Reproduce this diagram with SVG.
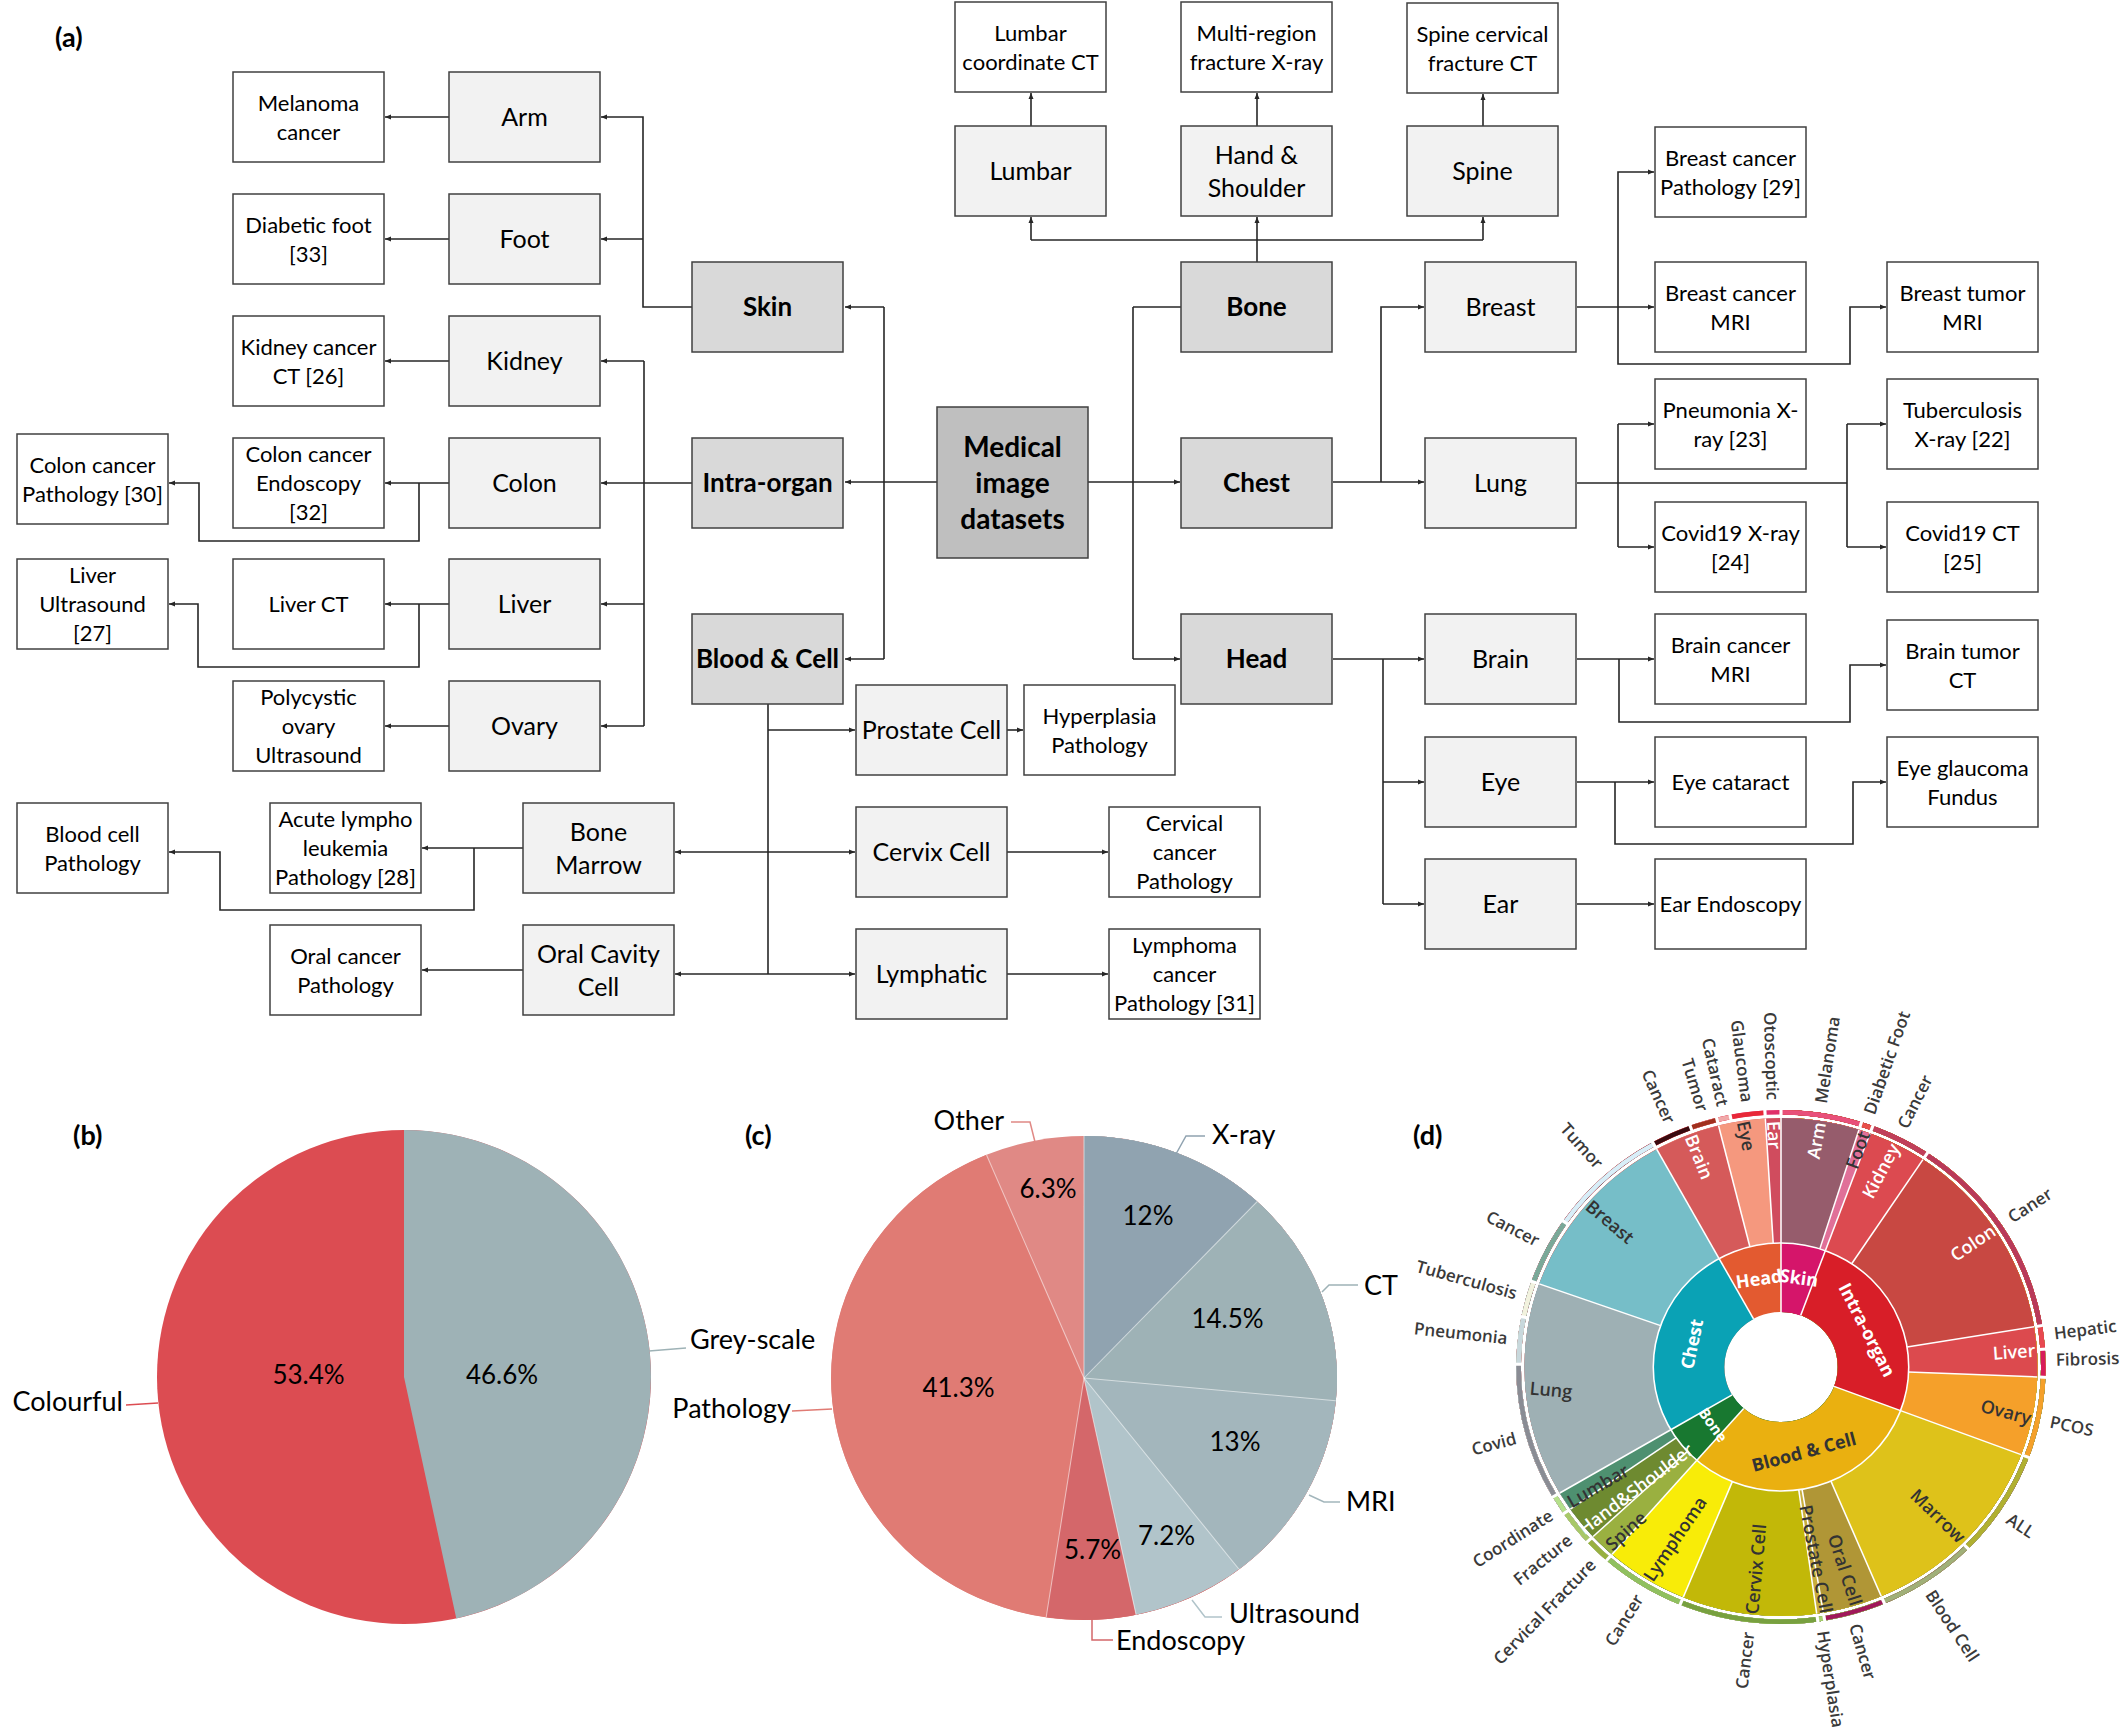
<svg xmlns="http://www.w3.org/2000/svg" width="2124" height="1728" viewBox="0 0 2124 1728">
<style>
.bx{stroke:#404040;stroke-width:1.5}
.leaf{fill:#fff}
.mid{fill:#f2f2f2}
.cat{fill:#d9d9d9}
.root{fill:#bfbfbf}
text{font-family:Lato,'Liberation Sans',sans-serif}
.t{font-size:22px;text-anchor:middle;fill:#000}
.tm{font-size:25px;text-anchor:middle;fill:#000}
.tb{font-size:26px;font-weight:700;text-anchor:middle;fill:#000}
.tr{font-size:28px;font-weight:700;text-anchor:middle;fill:#000}
.ln{fill:none;stroke:#262626;stroke-width:1.6}
.ar{marker-end:url(#ah)}
.pl{font-size:27px;font-weight:700;fill:#000}
.pt{font-size:27px;fill:#000}
.pp{font-size:26px;fill:#000;text-anchor:middle}
.sb text{font-family:'Open Sans','Liberation Sans',sans-serif}
.ol{font-size:17px;font-weight:600;fill:#3a3a3a}
.il{font-size:18px;font-weight:700;text-anchor:middle}
.sl{font-size:18px;font-weight:600;text-anchor:middle}
.w{fill:#fff}
.d{fill:#333}
.lead{fill:none;stroke-width:1.5}
</style>
<defs>
<marker id="ah" viewBox="0 0 6 6" refX="6" refY="3" markerWidth="6" markerHeight="6" markerUnits="userSpaceOnUse" orient="auto"><path d="M0,0.5L6,3L0,5.5z" fill="#262626"/></marker>
<path id="c1" fill="none" d="M0,-89.5A89.5,89.5 0 1 1 0,89.5A89.5,89.5 0 1 1 0,-89.5" pathLength="360"/>
<path id="c2" fill="none" d="M0,-186.5A186.5,186.5 0 1 1 0,186.5A186.5,186.5 0 1 1 0,-186.5" pathLength="360"/>
<path id="c3" fill="none" d="M0,-254.75A254.75,254.75 0 1 1 0,254.75A254.75,254.75 0 1 1 0,-254.75" pathLength="360"/>
<path id="pc" fill="none" d="M0,-121A121,121 0 1 1 0,121A121,121 0 1 1 0,-121" pathLength="100"/>
<path id="pb" fill="none" d="M0,-123.5A123.5,123.5 0 1 1 0,123.5A123.5,123.5 0 1 1 0,-123.5" pathLength="100"/>
</defs>
<rect width="2124" height="1728" fill="#fff"/>

<!-- panel labels -->
<g id="panel-labels">
<text class="pl" x="55" y="47">(a)</text>
<text class="pl" x="73" y="1145">(b)</text>
<text class="pl" x="745" y="1145">(c)</text>
<text class="pl" x="1413" y="1145">(d)</text>
</g>

<!-- connectors -->
<g id="connectors" class="ln">
<path class="ar" d="M692,307H643V117H601"/>
<path class="ar" d="M643,239H601"/>
<path class="ar" d="M449,117H385"/>
<path class="ar" d="M449,239H385"/>
<path class="ar" d="M692,483H601"/>
<path d="M644,361V726"/>
<path class="ar" d="M644,361H601"/>
<path class="ar" d="M644,604H601"/>
<path class="ar" d="M644,726H601"/>
<path class="ar" d="M449,361H385"/>
<path class="ar" d="M449,483H385"/>
<path class="ar" d="M419,483V541H199V483H169"/>
<path class="ar" d="M449,604H385"/>
<path class="ar" d="M419,604V667H198V604H169"/>
<path class="ar" d="M449,726H385"/>
<path d="M768,704V974"/>
<path class="ar" d="M768,730H855"/>
<path class="ar" d="M768,852H855"/>
<path class="ar" d="M768,852H675"/>
<path class="ar" d="M768,974H855"/>
<path class="ar" d="M768,974H675"/>
<path class="ar" d="M523,848H422"/>
<path class="ar" d="M474,848V910H220V852H169"/>
<path class="ar" d="M523,970H422"/>
<path class="ar" d="M1007,730H1023"/>
<path class="ar" d="M1007,852H1108"/>
<path class="ar" d="M1007,974H1108"/>
<path class="ar" d="M937,482H845"/>
<path d="M884,307V659"/>
<path class="ar" d="M884,307H845"/>
<path class="ar" d="M884,659H845"/>
<path class="ar" d="M1088,482H1180"/>
<path d="M1133,307V659"/>
<path d="M1133,307H1181"/>
<path class="ar" d="M1133,659H1180"/>
<path class="ar" d="M1257,262V217"/>
<path d="M1031,240H1483"/>
<path class="ar" d="M1031,240V217"/>
<path class="ar" d="M1483,240V217"/>
<path class="ar" d="M1031,126V93"/>
<path class="ar" d="M1257,126V93"/>
<path class="ar" d="M1483,126V94"/>
<path class="ar" d="M1333,482H1424"/>
<path class="ar" d="M1381,482V307H1424"/>
<path class="ar" d="M1577,307H1654"/>
<path class="ar" d="M1618,307V172H1654"/>
<path class="ar" d="M1618,307V364H1850V307H1886"/>
<path d="M1577,483H1847"/>
<path d="M1618,424V547"/>
<path class="ar" d="M1618,424H1654"/>
<path class="ar" d="M1618,547H1654"/>
<path d="M1847,424V547"/>
<path class="ar" d="M1847,424H1886"/>
<path class="ar" d="M1847,547H1886"/>
<path class="ar" d="M1333,659H1424"/>
<path d="M1383,659V904"/>
<path class="ar" d="M1383,782H1424"/>
<path class="ar" d="M1383,904H1424"/>
<path class="ar" d="M1577,659H1654"/>
<path class="ar" d="M1619,659V722H1850V665H1886"/>
<path class="ar" d="M1577,782H1654"/>
<path class="ar" d="M1615,782V844H1853V782H1886"/>
<path class="ar" d="M1577,904H1654"/>
</g>

<!-- left leaf nodes -->
<g id="n-melanoma"><rect class="bx leaf" x="233" y="72" width="151" height="90"/><text class="t"><tspan x="308.5" y="111">Melanoma</tspan><tspan x="308.5" y="139.5">cancer</tspan></text></g>
<g id="n-diabetic"><rect class="bx leaf" x="233" y="194" width="151" height="90"/><text class="t"><tspan x="308.5" y="233">Diabetic foot</tspan><tspan x="308.5" y="261.5">[33]</tspan></text></g>
<g id="n-kidneyct"><rect class="bx leaf" x="233" y="316" width="151" height="90"/><text class="t"><tspan x="308.5" y="355">Kidney cancer</tspan><tspan x="308.5" y="383.5">CT [26]</tspan></text></g>
<g id="n-colonpath"><rect class="bx leaf" x="17" y="434" width="151" height="90"/><text class="t"><tspan x="92.5" y="473">Colon cancer</tspan><tspan x="92.5" y="501.5">Pathology [30]</tspan></text></g>
<g id="n-colonendo"><rect class="bx leaf" x="233" y="438" width="151" height="90"/><text class="t"><tspan x="308.5" y="462">Colon cancer</tspan><tspan x="308.5" y="491">Endoscopy</tspan><tspan x="308.5" y="520">[32]</tspan></text></g>
<g id="n-liverus"><rect class="bx leaf" x="17" y="559" width="151" height="90"/><text class="t"><tspan x="92.5" y="583">Liver</tspan><tspan x="92.5" y="612">Ultrasound</tspan><tspan x="92.5" y="641">[27]</tspan></text></g>
<g id="n-liverct"><rect class="bx leaf" x="233" y="559" width="151" height="90"/><text class="t" x="308.5" y="612">Liver CT</text></g>
<g id="n-pco"><rect class="bx leaf" x="233" y="681" width="151" height="90"/><text class="t"><tspan x="308.5" y="705">Polycystic</tspan><tspan x="308.5" y="734">ovary</tspan><tspan x="308.5" y="763">Ultrasound</tspan></text></g>
<g id="n-bloodpath"><rect class="bx leaf" x="17" y="803" width="151" height="90"/><text class="t"><tspan x="92.5" y="842">Blood cell</tspan><tspan x="92.5" y="870.5">Pathology</tspan></text></g>
<g id="n-acute"><rect class="bx leaf" x="270" y="803" width="151" height="90"/><text class="t"><tspan x="345.5" y="827">Acute lympho</tspan><tspan x="345.5" y="856">leukemia</tspan><tspan x="345.5" y="885">Pathology [28]</tspan></text></g>
<g id="n-oralpath"><rect class="bx leaf" x="270" y="925" width="151" height="90"/><text class="t"><tspan x="345.5" y="964">Oral cancer</tspan><tspan x="345.5" y="992.5">Pathology</tspan></text></g>

<!-- left mid nodes -->
<g id="n-arm"><rect class="bx mid" x="449" y="72" width="151" height="90"/><text class="tm" x="524.5" y="126">Arm</text></g>
<g id="n-foot"><rect class="bx mid" x="449" y="194" width="151" height="90"/><text class="tm" x="524.5" y="248">Foot</text></g>
<g id="n-kidney"><rect class="bx mid" x="449" y="316" width="151" height="90"/><text class="tm" x="524.5" y="370">Kidney</text></g>
<g id="n-colon"><rect class="bx mid" x="449" y="438" width="151" height="90"/><text class="tm" x="524.5" y="492">Colon</text></g>
<g id="n-liver"><rect class="bx mid" x="449" y="559" width="151" height="90"/><text class="tm" x="524.5" y="613">Liver</text></g>
<g id="n-ovary"><rect class="bx mid" x="449" y="681" width="151" height="90"/><text class="tm" x="524.5" y="735">Ovary</text></g>
<g id="n-marrow"><rect class="bx mid" x="523" y="803" width="151" height="90"/><text class="tm"><tspan x="598.5" y="840.5">Bone</tspan><tspan x="598.5" y="873.5">Marrow</tspan></text></g>
<g id="n-oralcavity"><rect class="bx mid" x="523" y="925" width="151" height="90"/><text class="tm"><tspan x="598.5" y="962.5">Oral Cavity</tspan><tspan x="598.5" y="995.5">Cell</tspan></text></g>

<!-- center -->
<g id="n-skin"><rect class="bx cat" x="692" y="262" width="151" height="90"/><text class="tb" x="767.5" y="316">Skin</text></g>
<g id="n-intra"><rect class="bx cat" x="692" y="438" width="151" height="90"/><text class="tb" x="767.5" y="492">Intra-organ</text></g>
<g id="n-blood"><rect class="bx cat" x="692" y="614" width="151" height="90"/><text class="tb" x="767.5" y="668">Blood &amp; Cell</text></g>
<g id="n-root"><rect class="bx root" x="937" y="407" width="151" height="151"/><text class="tr"><tspan x="1012.5" y="456.5">Medical</tspan><tspan x="1012.5" y="492.5">image</tspan><tspan x="1012.5" y="528.5">datasets</tspan></text></g>
<g id="n-prostate"><rect class="bx mid" x="856" y="685" width="151" height="90"/><text class="tm" x="931.5" y="739">Prostate Cell</text></g>
<g id="n-hyper"><rect class="bx leaf" x="1024" y="685" width="151" height="90"/><text class="t"><tspan x="1099.5" y="724">Hyperplasia</tspan><tspan x="1099.5" y="752.5">Pathology</tspan></text></g>
<g id="n-cervix"><rect class="bx mid" x="856" y="807" width="151" height="90"/><text class="tm" x="931.5" y="861">Cervix Cell</text></g>
<g id="n-cervical"><rect class="bx leaf" x="1109" y="807" width="151" height="90"/><text class="t"><tspan x="1184.5" y="831">Cervical</tspan><tspan x="1184.5" y="860">cancer</tspan><tspan x="1184.5" y="889">Pathology</tspan></text></g>
<g id="n-lymphatic"><rect class="bx mid" x="856" y="929" width="151" height="90"/><text class="tm" x="931.5" y="983">Lymphatic</text></g>
<g id="n-lymphoma"><rect class="bx leaf" x="1109" y="929" width="151" height="90"/><text class="t"><tspan x="1184.5" y="953">Lymphoma</tspan><tspan x="1184.5" y="982">cancer</tspan><tspan x="1184.5" y="1011">Pathology [31]</tspan></text></g>

<!-- top -->
<g id="n-lumbarct"><rect class="bx leaf" x="955" y="2" width="151" height="90"/><text class="t"><tspan x="1030.5" y="41">Lumbar</tspan><tspan x="1030.5" y="69.5">coordinate CT</tspan></text></g>
<g id="n-multi"><rect class="bx leaf" x="1181" y="2" width="151" height="90"/><text class="t"><tspan x="1256.5" y="41">Multi-region</tspan><tspan x="1256.5" y="69.5">fracture X-ray</tspan></text></g>
<g id="n-spinect"><rect class="bx leaf" x="1407" y="3" width="151" height="90"/><text class="t"><tspan x="1482.5" y="42">Spine cervical</tspan><tspan x="1482.5" y="70.5">fracture CT</tspan></text></g>
<g id="n-lumbar"><rect class="bx mid" x="955" y="126" width="151" height="90"/><text class="tm" x="1030.5" y="180">Lumbar</text></g>
<g id="n-hand"><rect class="bx mid" x="1181" y="126" width="151" height="90"/><text class="tm"><tspan x="1256.5" y="163.5">Hand &amp;</tspan><tspan x="1256.5" y="196.5">Shoulder</tspan></text></g>
<g id="n-spine"><rect class="bx mid" x="1407" y="126" width="151" height="90"/><text class="tm" x="1482.5" y="180">Spine</text></g>
<g id="n-bone"><rect class="bx cat" x="1181" y="262" width="151" height="90"/><text class="tb" x="1256.5" y="316">Bone</text></g>
<g id="n-chest"><rect class="bx cat" x="1181" y="438" width="151" height="90"/><text class="tb" x="1256.5" y="492">Chest</text></g>
<g id="n-head"><rect class="bx cat" x="1181" y="614" width="151" height="90"/><text class="tb" x="1256.5" y="668">Head</text></g>

<!-- right -->
<g id="n-breast"><rect class="bx mid" x="1425" y="262" width="151" height="90"/><text class="tm" x="1500.5" y="316">Breast</text></g>
<g id="n-lung"><rect class="bx mid" x="1425" y="438" width="151" height="90"/><text class="tm" x="1500.5" y="492">Lung</text></g>
<g id="n-brain"><rect class="bx mid" x="1425" y="614" width="151" height="90"/><text class="tm" x="1500.5" y="668">Brain</text></g>
<g id="n-eye"><rect class="bx mid" x="1425" y="737" width="151" height="90"/><text class="tm" x="1500.5" y="791">Eye</text></g>
<g id="n-ear"><rect class="bx mid" x="1425" y="859" width="151" height="90"/><text class="tm" x="1500.5" y="913">Ear</text></g>
<g id="n-bcpath"><rect class="bx leaf" x="1655" y="127" width="151" height="90"/><text class="t"><tspan x="1730.5" y="166">Breast cancer</tspan><tspan x="1730.5" y="194.5">Pathology [29]</tspan></text></g>
<g id="n-bcmri"><rect class="bx leaf" x="1655" y="262" width="151" height="90"/><text class="t"><tspan x="1730.5" y="301">Breast cancer</tspan><tspan x="1730.5" y="329.5">MRI</tspan></text></g>
<g id="n-btmri"><rect class="bx leaf" x="1887" y="262" width="151" height="90"/><text class="t"><tspan x="1962.5" y="301">Breast tumor</tspan><tspan x="1962.5" y="329.5">MRI</tspan></text></g>
<g id="n-pneu"><rect class="bx leaf" x="1655" y="379" width="151" height="90"/><text class="t"><tspan x="1730.5" y="418">Pneumonia X-</tspan><tspan x="1730.5" y="446.5">ray [23]</tspan></text></g>
<g id="n-covidx"><rect class="bx leaf" x="1655" y="502" width="151" height="90"/><text class="t"><tspan x="1730.5" y="541">Covid19 X-ray</tspan><tspan x="1730.5" y="569.5">[24]</tspan></text></g>
<g id="n-tb"><rect class="bx leaf" x="1887" y="379" width="151" height="90"/><text class="t"><tspan x="1962.5" y="418">Tuberculosis</tspan><tspan x="1962.5" y="446.5">X-ray [22]</tspan></text></g>
<g id="n-covidct"><rect class="bx leaf" x="1887" y="502" width="151" height="90"/><text class="t"><tspan x="1962.5" y="541">Covid19 CT</tspan><tspan x="1962.5" y="569.5">[25]</tspan></text></g>
<g id="n-brainmri"><rect class="bx leaf" x="1655" y="614" width="151" height="90"/><text class="t"><tspan x="1730.5" y="653">Brain cancer</tspan><tspan x="1730.5" y="681.5">MRI</tspan></text></g>
<g id="n-braintct"><rect class="bx leaf" x="1887" y="620" width="151" height="90"/><text class="t"><tspan x="1962.5" y="659">Brain tumor</tspan><tspan x="1962.5" y="687.5">CT</tspan></text></g>
<g id="n-cataract"><rect class="bx leaf" x="1655" y="737" width="151" height="90"/><text class="t" x="1730.5" y="790">Eye cataract</text></g>
<g id="n-glaucoma"><rect class="bx leaf" x="1887" y="737" width="151" height="90"/><text class="t"><tspan x="1962.5" y="776">Eye glaucoma</tspan><tspan x="1962.5" y="804.5">Fundus</tspan></text></g>
<g id="n-earendo"><rect class="bx leaf" x="1655" y="859" width="151" height="90"/><text class="t" x="1730.5" y="912">Ear Endoscopy</text></g>

<!-- (b) pie -->
<g id="b-pie">
<circle cx="404" cy="1377" r="247" fill="#DC4C52"/>
<use href="#pb" transform="translate(404,1377)" stroke="#9EB2B6" stroke-width="247" stroke-dasharray="46.6 100"/>
<text class="pp" x="308.5" y="1384">53.4%</text>
<text class="pp" x="502" y="1384">46.6%</text>
<path class="lead" d="M126,1405L158,1403" stroke="#DC4C52"/>
<text class="pt" x="123" y="1411" text-anchor="end">Colourful</text>
<path class="lead" d="M649,1351L686,1348" stroke="#9EB2B6"/>
<text class="pt" x="690" y="1349">Grey-scale</text>
</g>

<!-- (c) pie -->
<g id="c-pie">
<g transform="translate(1084,1378) scale(1.045,1)">
<circle r="242" fill="#E08985"/>
<use href="#pc" stroke="#E07B74" stroke-width="242" stroke-dasharray="93.7 100"/>
<use href="#pc" stroke="#D4676A" stroke-width="242" stroke-dasharray="52.4 100"/>
<use href="#pc" stroke="#B1C4CA" stroke-width="242" stroke-dasharray="46.7 100"/>
<use href="#pc" stroke="#A3B6BC" stroke-width="242" stroke-dasharray="39.5 100"/>
<use href="#pc" stroke="#9EB2B6" stroke-width="242" stroke-dasharray="26.5 100"/>
<use href="#pc" stroke="#90A3B0" stroke-width="242" stroke-dasharray="12 100"/>
<g stroke="#fff" stroke-opacity="0.55" stroke-width="1">
<line y2="-242"/><line y2="-242" transform="rotate(43.2)"/><line y2="-242" transform="rotate(95.4)"/><line y2="-242" transform="rotate(142.2)"/><line y2="-242" transform="rotate(168.1)"/><line y2="-242" transform="rotate(188.6)"/><line y2="-242" transform="rotate(337.3)"/>
</g>
</g>
<text class="pp" x="1148" y="1225">12%</text>
<text class="pp" x="1227.5" y="1328">14.5%</text>
<text class="pp" x="1235" y="1451">13%</text>
<text class="pp" x="1166.5" y="1545">7.2%</text>
<text class="pp" x="1092.5" y="1559">5.7%</text>
<text class="pp" x="958.5" y="1397">41.3%</text>
<text class="pp" x="1048" y="1198">6.3%</text>
<path class="lead" d="M1176,1154L1186,1136H1205" stroke="#90A3B0"/>
<text class="pt" x="1212" y="1144">X-ray</text>
<path class="lead" d="M1322,1292L1329,1285H1358" stroke="#9EB2B6"/>
<text class="pt" x="1364" y="1295">CT</text>
<path class="lead" d="M1309,1495L1324,1502H1340" stroke="#A3B6BC"/>
<text class="pt" x="1346" y="1511">MRI</text>
<path class="lead" d="M1192,1600L1205,1617H1222" stroke="#B1C4CA"/>
<text class="pt" x="1229" y="1623">Ultrasound</text>
<path class="lead" d="M1092,1619V1640H1113" stroke="#D4676A"/>
<text class="pt" x="1116" y="1650">Endoscopy</text>
<path class="lead" d="M792,1411L832,1409" stroke="#E07B74"/>
<text class="pt" x="791" y="1418" text-anchor="end">Pathology</text>
<path class="lead" d="M1011,1122H1030L1035,1142" stroke="#E08985"/>
<text class="pt" x="1004" y="1130" text-anchor="end">Other</text>
</g>

<!-- (d) sunburst -->
<g id="d-sunburst" class="sb">
<g transform="translate(1781,1367) scale(1.03,1)">
<use href="#c1" stroke="#E35A30" stroke-width="69"/>
<use href="#c1" stroke="#0AA2B5" stroke-width="69" stroke-dasharray="331 360"/>
<use href="#c1" stroke="#187830" stroke-width="69" stroke-dasharray="239.6 360"/>
<use href="#c1" stroke="#EAB010" stroke-width="69" stroke-dasharray="221.2 360"/>
<use href="#c1" stroke="#D81E28" stroke-width="69" stroke-dasharray="110.6 360"/>
<use href="#c1" stroke="#D5156A" stroke-width="69" stroke-dasharray="20.3 360"/>

<use href="#c2" stroke="#D04C5E" stroke-width="125"/>
<use href="#c2" stroke="#F5987E" stroke-width="125" stroke-dasharray="356.5 360"/>
<use href="#c2" stroke="#D55A5A" stroke-width="125" stroke-dasharray="345.9 360"/>
<use href="#c2" stroke="#76BEC8" stroke-width="125" stroke-dasharray="331 360"/>
<use href="#c2" stroke="#9EB0B4" stroke-width="125" stroke-dasharray="289.5 360"/>
<use href="#c2" stroke="#4E9070" stroke-width="125" stroke-dasharray="239.6 360"/>
<use href="#c2" stroke="#6E8A30" stroke-width="125" stroke-dasharray="235.2 360"/>
<use href="#c2" stroke="#9AB040" stroke-width="125" stroke-dasharray="227.1 360"/>
<use href="#c2" stroke="#F8EC08" stroke-width="125" stroke-dasharray="221.2 360"/>
<use href="#c2" stroke="#C2B808" stroke-width="125" stroke-dasharray="202.4 360"/>
<use href="#c2" stroke="#C8AE3C" stroke-width="125" stroke-dasharray="172 360"/>
<use href="#c2" stroke="#B09636" stroke-width="125" stroke-dasharray="170.5 360"/>
<use href="#c2" stroke="#DEC21A" stroke-width="125" stroke-dasharray="157 360"/>
<use href="#c2" stroke="#F5A02A" stroke-width="125" stroke-dasharray="110.6 360"/>
<use href="#c2" stroke="#DC4A4E" stroke-width="125" stroke-dasharray="92.3 360"/>
<use href="#c2" stroke="#C84842" stroke-width="125" stroke-dasharray="80.7 360"/>
<use href="#c2" stroke="#DC4A50" stroke-width="125" stroke-dasharray="33.6 360"/>
<use href="#c2" stroke="#E07098" stroke-width="125" stroke-dasharray="20.3 360"/>
<use href="#c2" stroke="#965C6C" stroke-width="125" stroke-dasharray="17.7 360"/>

<use href="#c3" stroke="#E0306A" stroke-width="4.5"/>
<use href="#c3" stroke="#E82838" stroke-width="4.5" stroke-dasharray="356.5 360"/>
<use href="#c3" stroke="#F0A8A8" stroke-width="4.5" stroke-dasharray="348.9 360"/>
<use href="#c3" stroke="#A0301E" stroke-width="4.5" stroke-dasharray="345.9 360"/>
<use href="#c3" stroke="#3A0A10" stroke-width="4.5" stroke-dasharray="339.9 360"/>
<use href="#c3" stroke="#D8EEF8" stroke-width="4.5" stroke-dasharray="331 360"/>
<use href="#c3" stroke="#7AA898" stroke-width="4.5" stroke-dasharray="304.6 360"/>
<use href="#c3" stroke="#F2F2DE" stroke-width="4.5" stroke-dasharray="289.5 360"/>
<use href="#c3" stroke="#C8D8DC" stroke-width="4.5" stroke-dasharray="281.3 360"/>
<use href="#c3" stroke="#8A8C94" stroke-width="4.5" stroke-dasharray="270.6 360"/>
<use href="#c3" stroke="#B5E08A" stroke-width="4.5" stroke-dasharray="239.6 360"/>
<use href="#c3" stroke="#A8C868" stroke-width="4.5" stroke-dasharray="235.2 360"/>
<use href="#c3" stroke="#98B040" stroke-width="4.5" stroke-dasharray="227.1 360"/>
<use href="#c3" stroke="#90C060" stroke-width="4.5" stroke-dasharray="221.2 360"/>
<use href="#c3" stroke="#78A040" stroke-width="4.5" stroke-dasharray="202.4 360"/>
<use href="#c3" stroke="#A8D070" stroke-width="4.5" stroke-dasharray="172 360"/>
<use href="#c3" stroke="#A0185A" stroke-width="4.5" stroke-dasharray="170.5 360"/>
<use href="#c3" stroke="#A0B078" stroke-width="4.5" stroke-dasharray="157 360"/>
<use href="#c3" stroke="#B0B030" stroke-width="4.5" stroke-dasharray="135 360"/>
<use href="#c3" stroke="#F5A02A" stroke-width="4.5" stroke-dasharray="110.6 360"/>
<use href="#c3" stroke="#D81B5A" stroke-width="4.5" stroke-dasharray="92.3 360"/>
<use href="#c3" stroke="#E84850" stroke-width="4.5" stroke-dasharray="86 360"/>
<use href="#c3" stroke="#B83A5A" stroke-width="4.5" stroke-dasharray="80.7 360"/>
<use href="#c3" stroke="#C0405A" stroke-width="4.5" stroke-dasharray="33.6 360"/>
<use href="#c3" stroke="#E8504A" stroke-width="4.5" stroke-dasharray="20.3 360"/>
<use href="#c3" stroke="#E8507A" stroke-width="4.5" stroke-dasharray="17.7 360"/>

<circle r="124" fill="none" stroke="#fff" stroke-width="1.5"/>
<g stroke="#fff" stroke-width="1.5">
<line y1="-55" y2="-124"/><line y1="-55" y2="-124" transform="rotate(20.3)"/><line y1="-55" y2="-124" transform="rotate(110.6)"/><line y1="-55" y2="-124" transform="rotate(221.2)"/><line y1="-55" y2="-124" transform="rotate(239.6)"/><line y1="-55" y2="-124" transform="rotate(331)"/>
<line y1="-124" y2="-249"/><line y1="-124" y2="-249" transform="rotate(17.7)"/><line y1="-124" y2="-249" transform="rotate(20.3)"/><line y1="-124" y2="-249" transform="rotate(33.6)"/><line y1="-124" y2="-249" transform="rotate(80.7)"/><line y1="-124" y2="-249" transform="rotate(92.3)"/><line y1="-124" y2="-249" transform="rotate(110.6)"/><line y1="-124" y2="-249" transform="rotate(157)"/><line y1="-124" y2="-249" transform="rotate(170.5)"/><line y1="-124" y2="-249" transform="rotate(172)"/><line y1="-124" y2="-249" transform="rotate(202.4)"/><line y1="-124" y2="-249" transform="rotate(221.2)"/><line y1="-124" y2="-249" transform="rotate(227.1)"/><line y1="-124" y2="-249" transform="rotate(235.2)"/><line y1="-124" y2="-249" transform="rotate(239.6)"/><line y1="-124" y2="-249" transform="rotate(289.5)"/><line y1="-124" y2="-249" transform="rotate(331)"/><line y1="-124" y2="-249" transform="rotate(345.9)"/><line y1="-124" y2="-249" transform="rotate(356.5)"/>
</g>
<g stroke="#fff" stroke-width="3">
<line y1="-251" y2="-259"/><line y1="-251" y2="-259" transform="rotate(17.7)"/><line y1="-251" y2="-259" transform="rotate(20.3)"/><line y1="-251" y2="-259" transform="rotate(33.6)"/><line y1="-251" y2="-259" transform="rotate(80.7)"/><line y1="-251" y2="-259" transform="rotate(86)"/><line y1="-251" y2="-259" transform="rotate(92.3)"/><line y1="-251" y2="-259" transform="rotate(110.6)"/><line y1="-251" y2="-259" transform="rotate(135)"/><line y1="-251" y2="-259" transform="rotate(157)"/><line y1="-251" y2="-259" transform="rotate(170.5)"/><line y1="-251" y2="-259" transform="rotate(172)"/><line y1="-251" y2="-259" transform="rotate(202.4)"/><line y1="-251" y2="-259" transform="rotate(221.2)"/><line y1="-251" y2="-259" transform="rotate(227.1)"/><line y1="-251" y2="-259" transform="rotate(235.2)"/><line y1="-251" y2="-259" transform="rotate(239.6)"/><line y1="-251" y2="-259" transform="rotate(270.6)"/><line y1="-251" y2="-259" transform="rotate(281.3)"/><line y1="-251" y2="-259" transform="rotate(289.5)"/><line y1="-251" y2="-259" transform="rotate(304.6)"/><line y1="-251" y2="-259" transform="rotate(331)"/><line y1="-251" y2="-259" transform="rotate(339.9)"/><line y1="-251" y2="-259" transform="rotate(345.9)"/><line y1="-251" y2="-259" transform="rotate(348.9)"/><line y1="-251" y2="-259" transform="rotate(356.5)"/>
</g>
</g>

<!-- inner ring labels -->
<text class="il w" transform="translate(1759,1279) rotate(-8)" dy="0.35em">Head</text>
<text class="il w" transform="translate(1799,1278) rotate(8)" dy="0.35em">Skin</text>
<text class="il w" transform="translate(1867,1330) rotate(63)" dy="0.35em">Intra-organ</text>
<text class="il d" transform="translate(1804,1452) rotate(-15)" dy="0.35em">Blood &amp; Cell</text>
<text class="il w" style="font-size:15px" transform="translate(1713,1425) rotate(55)" dy="0.35em">Bone</text>
<text class="il w" transform="translate(1692,1344) rotate(-78)" dy="0.35em">Chest</text>

<!-- second ring labels -->
<text class="sl w" transform="translate(1816.5,1140.5) rotate(-80)" dy="0.35em">Arm</text>
<text class="sl d" transform="translate(1858,1150) rotate(-70)" dy="0.35em">Foot</text>
<text class="sl w" transform="translate(1881,1171) rotate(-62)" dy="0.35em">Kidney</text>
<text class="sl w" transform="translate(1973,1243) rotate(-34)" dy="0.35em">Colon</text>
<text class="sl w" transform="translate(2014,1352) rotate(-4)" dy="0.35em">Liver</text>
<text class="sl d" transform="translate(2006,1412) rotate(15)" dy="0.35em">Ovary</text>
<text class="sl d" transform="translate(1938,1516) rotate(44)" dy="0.35em">Marrow</text>
<text class="sl d" transform="translate(1845,1570) rotate(72)" dy="0.35em">Oral Cell</text>
<text class="sl d" transform="translate(1816,1559) rotate(79)" dy="0.35em">Prostate Cell</text>
<text class="sl d" transform="translate(1756,1569) rotate(-85)" dy="0.35em">Cervix Cell</text>
<text class="sl d" transform="translate(1675,1539) rotate(-56)" dy="0.35em">Lymphoma</text>
<text class="sl d" transform="translate(1626,1531) rotate(-42)" dy="0.35em">Spine</text>
<text class="sl w" transform="translate(1636,1489) rotate(-37)" dy="0.35em">Hand&amp;Shoulder</text>
<text class="sl d" transform="translate(1598,1486) rotate(-30)" dy="0.35em">Lumbar</text>
<text class="sl d" transform="translate(1551,1390) rotate(5)" dy="0.35em">Lung</text>
<text class="sl d" transform="translate(1610,1222) rotate(40)" dy="0.35em">Breast</text>
<text class="sl w" transform="translate(1699,1157) rotate(68)" dy="0.35em">Brain</text>
<text class="sl d" transform="translate(1746,1136) rotate(78)" dy="0.35em">Eye</text>
<text class="sl w" transform="translate(1774,1135) rotate(87)" dy="0.35em">Ear</text>

<!-- outer labels -->
<g class="ol">
<text transform="translate(1781,1367) rotate(-81.4) translate(267,0)" dy="0.35em">Melanoma</text>
<text transform="translate(1781,1367) rotate(-70.8) translate(268,0)" dy="0.35em">Diabetic Foot</text>
<text transform="translate(1781,1367) rotate(-63.2) translate(268.6,0)" dy="0.35em">Cancer</text>
<text transform="translate(1781,1367) rotate(-33) translate(272.6,0)" dy="0.35em">Caner</text>
<text transform="translate(1781,1367) rotate(-7) translate(275,0)" dy="0.35em">Hepatic</text>
<text transform="translate(1781,1367) rotate(-1.5) translate(275,0)" dy="0.35em">Fibrosis</text>
<text transform="translate(1781,1367) rotate(11.5) translate(274.7,0)" dy="0.35em">PCOS</text>
<text transform="translate(1781,1367) rotate(33.5) translate(272.6,0)" dy="0.35em">ALL</text>
<text transform="translate(1781,1367) rotate(56.5) translate(269.4,0)" dy="0.35em">Blood Cell</text>
<text transform="translate(1781,1367) rotate(74) translate(267.6,0)" dy="0.35em">Cancer</text>
<text transform="translate(1781,1367) rotate(81) translate(267.2,0)" dy="0.35em">Hyperplasia</text>
<text text-anchor="end" transform="translate(1781,1367) rotate(-83) translate(-267.1,0)" dy="0.35em">Cancer</text>
<text text-anchor="end" transform="translate(1781,1367) rotate(-58.2) translate(-269.2,0)" dy="0.35em">Cancer</text>
<text text-anchor="end" transform="translate(1781,1367) rotate(-46) translate(-270.9,0)" dy="0.35em">Cervical Fracture</text>
<text text-anchor="end" transform="translate(1781,1367) rotate(-39) translate(-271.8,0)" dy="0.35em">Fracture</text>
<text text-anchor="end" transform="translate(1781,1367) rotate(-32.6) translate(-272.7,0)" dy="0.35em">Coordinate</text>
<text text-anchor="end" transform="translate(1781,1367) rotate(-15) translate(-274.5,0)" dy="0.35em">Covid</text>
<text text-anchor="end" transform="translate(1781,1367) rotate(6) translate(-275,0)" dy="0.35em">Pneumonia</text>
<text text-anchor="end" transform="translate(1781,1367) rotate(15.5) translate(-274.4,0)" dy="0.35em">Tuberculosis</text>
<text text-anchor="end" transform="translate(1781,1367) rotate(27.3) translate(-273.3,0)" dy="0.35em">Cancer</text>
<text text-anchor="end" transform="translate(1781,1367) rotate(48) translate(-270.6,0)" dy="0.35em">Tumor</text>
<text text-anchor="end" transform="translate(1781,1367) rotate(65.6) translate(-268.4,0)" dy="0.35em">Cancer</text>
<text text-anchor="end" transform="translate(1781,1367) rotate(73) translate(-267.7,0)" dy="0.35em">Tumor</text>
<text text-anchor="end" transform="translate(1781,1367) rotate(77.4) translate(-267.4,0)" dy="0.35em">Cataract</text>
<text text-anchor="end" transform="translate(1781,1367) rotate(82.7) translate(-267.1,0)" dy="0.35em">Glaucoma</text>
<text text-anchor="end" transform="translate(1781,1367) rotate(88.2) translate(-267,0)" dy="0.35em">Otoscoptic</text>
</g>
</g>
</svg>
